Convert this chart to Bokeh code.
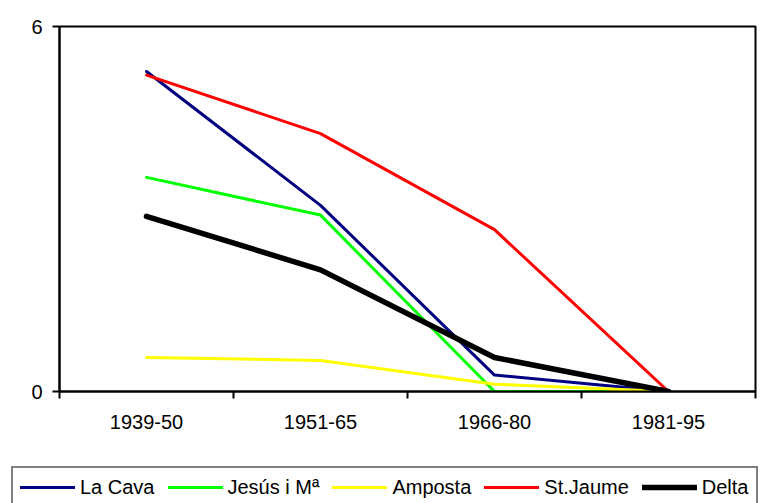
from bokeh.plotting import figure
from bokeh.layouts import column
from bokeh.models import Range1d, FixedTicker, Legend, LegendItem
from bokeh.embed import file_html
from bokeh.resources import INLINE

periods = ["1939-50", "1951-65", "1966-80", "1981-95"]
la_cava = [5.26, 3.06, 0.27, 0.0]
jesus = [3.52, 2.90, 0.0, 0.0]
amposta = [0.56, 0.51, 0.12, 0.0]
st_jaume = [5.20, 4.24, 2.66, 0.0]
delta = [2.88, 2.00, 0.56, 0.0]
y_ticks = [0, 6]

FONT = "Liberation Sans"

x = [i + 0.5 for i in range(len(periods))]

p = figure(width=760, height=450, output_backend="svg", toolbar_location=None,
           x_range=Range1d(0, len(periods)), y_range=Range1d(0, 6),
           min_border_left=59, min_border_right=5, min_border_top=26,
           min_border_bottom=59)
p.frame_align = False
p.background_fill_color = "white"
p.border_fill_color = "white"
p.grid.visible = False
p.outline_line_color = "black"
p.outline_line_width = 2

series = [
    ("La Cava", la_cava, "#000080", 3),
    ("Jesús i Mª", jesus, "#00FF00", 3),
    ("Amposta", amposta, "#FFFF00", 3),
    ("St.Jaume", st_jaume, "#FF0000", 3),
    ("Delta", delta, "#000000", 5.5),
]
for name, vals, col, w in series:
    p.line(x, vals, line_color=col, line_width=w, line_join="round", line_cap="round")

xa = p.xaxis[0]
xa.ticker = FixedTicker(ticks=x, minor_ticks=list(range(len(periods) + 1)))
xa.major_label_overrides = {xi: lab for xi, lab in zip(x, periods)}
xa.major_tick_out = 0
xa.major_tick_in = 0
xa.minor_tick_out = 7
xa.minor_tick_in = 0
xa.minor_tick_line_width = 2
xa.minor_tick_line_color = "black"
xa.axis_line_width = 2
xa.axis_line_color = "black"
xa.major_label_standoff = 16
xa.major_label_text_font = FONT
xa.major_label_text_font_size = "20px"
xa.major_label_text_color = "black"

ya = p.yaxis[0]
ya.ticker = FixedTicker(ticks=y_ticks, minor_ticks=[])
ya.major_tick_out = 7
ya.major_tick_in = 0
ya.major_tick_line_width = 2
ya.axis_line_width = 2
ya.axis_line_color = "black"
ya.major_label_standoff = 10
ya.major_label_text_font = FONT
ya.major_label_text_font_size = "20px"
ya.major_label_text_color = "black"

# legend strip below the chart (series drawn out of view; only the legend shows)
q = figure(width=760, height=53, output_backend="svg", toolbar_location=None,
           x_range=Range1d(0, len(periods)), y_range=Range1d(100, 101),
           min_border_left=0, min_border_right=0, min_border_top=0, min_border_bottom=0,
           x_axis_location=None, y_axis_location=None)
q.frame_align = False
q.grid.visible = False
q.outline_line_color = None
q.background_fill_color = "white"
q.border_fill_color = "white"
items = []
for name, vals, col, w in series:
    r = q.line(x, vals, line_color=col, line_width=w, line_cap="round")
    items.append(LegendItem(label=name, renderers=[r]))

legend = Legend(items=items, orientation="horizontal", location=(11, -5),
                glyph_width=55, glyph_height=24, label_height=24, label_standoff=5,
                spacing=13, padding=7, margin=0,
                label_text_font=FONT, label_text_font_size="20px",
                label_text_color="black",
                border_line_color="black", border_line_width=2,
                background_fill_color="white", background_fill_alpha=1)
q.add_layout(legend, "center")

layout = column(p, q, spacing=0)
open("out.html", "w").write(file_html(layout, INLINE))
